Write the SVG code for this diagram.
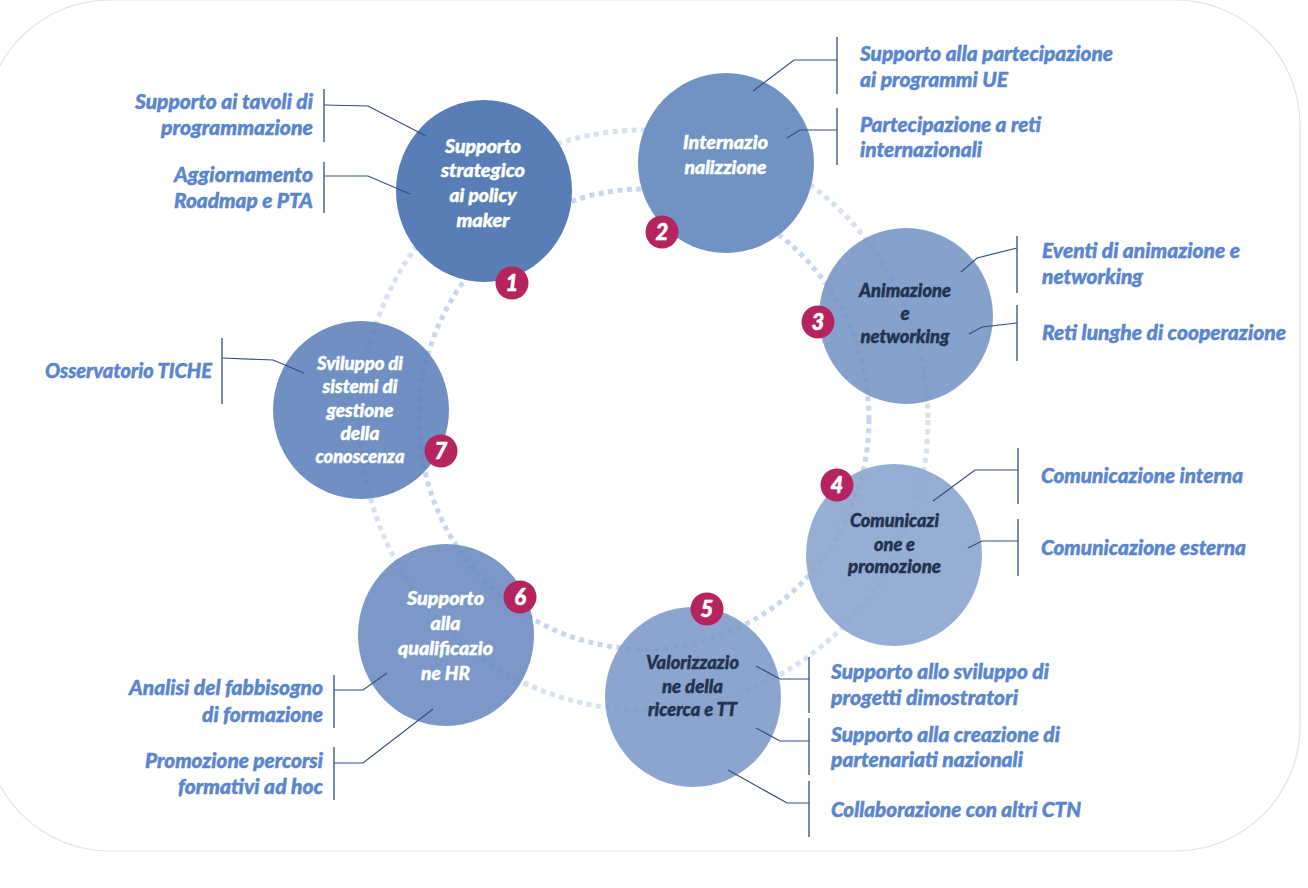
<svg xmlns="http://www.w3.org/2000/svg" width="1308" height="888" viewBox="0 0 1308 888">
<style>
.bg{fill:#ffffff;stroke:#e2e2e2;stroke-width:1.2}
.ring{fill:none;stroke-width:5;stroke-dasharray:5 4.5}
.ra{stroke:#d7e1f1}
.rb{stroke:#c9d7ee}
.ct{font-family:Lato,"Liberation Sans",sans-serif;font-weight:900;font-style:italic;font-size:18.5px;text-anchor:middle;stroke-width:0.45}
.w{fill:#ffffff;stroke:#ffffff}
.n{fill:#22324f;stroke:#22324f}
.lb{font-family:Lato,"Liberation Sans",sans-serif;font-weight:900;font-style:italic;font-size:20px;fill:#5a86cf;stroke:#5a86cf;stroke-width:0.45}
.end{text-anchor:end}
.br{stroke:#3d5b8e;stroke-width:1.4;fill:none}
.cn{stroke:#34507f;stroke-width:1.2;fill:none}
.bd{fill:#b5245f}
.bt{font-family:Lato,"Liberation Sans",sans-serif;font-weight:900;font-style:italic;font-size:22px;fill:#ffffff;stroke:#ffffff;stroke-width:0.5;text-anchor:middle}
</style>
<rect class="bg" x="-15" y="0" width="1315" height="851" rx="125" ry="125"/>
<g id="rings">
<ellipse class="ring ra" cx="644" cy="420" rx="284" ry="290"/>
<ellipse class="ring rb" cx="644" cy="419" rx="225" ry="230"/>
</g>
<g id="node1">
<ellipse cx="484" cy="191" rx="88" ry="91" fill="#587db7"/>
<text class="ct w" x="483" y="153" textLength="76" lengthAdjust="spacingAndGlyphs">Supporto</text>
<text class="ct w" x="483" y="177" textLength="84" lengthAdjust="spacingAndGlyphs">strategico</text>
<text class="ct w" x="483" y="202" textLength="67" lengthAdjust="spacingAndGlyphs">ai policy</text>
<text class="ct w" x="483" y="227" textLength="53" lengthAdjust="spacingAndGlyphs">maker</text>
</g>
<g id="node2">
<ellipse cx="726" cy="163" rx="88" ry="90" fill="#7093c4"/>
<text class="ct w" x="725.5" y="149" textLength="85" lengthAdjust="spacingAndGlyphs">Internazio</text>
<text class="ct w" x="725.5" y="174" textLength="82" lengthAdjust="spacingAndGlyphs">nalizzione</text>
</g>
<g id="node3">
<ellipse cx="906" cy="316" rx="87" ry="88" fill="#7494c5" fill-opacity="0.88"/>
<text class="ct n" x="905" y="297" textLength="92" lengthAdjust="spacingAndGlyphs">Animazione</text>
<text class="ct n" x="905" y="320">e</text>
<text class="ct n" x="905" y="343" textLength="89" lengthAdjust="spacingAndGlyphs">networking</text>
</g>
<g id="node4">
<ellipse cx="894" cy="555" rx="88" ry="91" fill="#87a3ce" fill-opacity="0.88"/>
<text class="ct n" x="894.5" y="527" textLength="89" lengthAdjust="spacingAndGlyphs">Comunicazi</text>
<text class="ct n" x="894.5" y="551" textLength="41" lengthAdjust="spacingAndGlyphs">one e</text>
<text class="ct n" x="894.5" y="573" textLength="93" lengthAdjust="spacingAndGlyphs">promozione</text>
</g>
<g id="node5">
<ellipse cx="693" cy="697" rx="88" ry="90" fill="#7b99c8" fill-opacity="0.88"/>
<text class="ct n" x="692.5" y="669" textLength="93" lengthAdjust="spacingAndGlyphs">Valorizzazio</text>
<text class="ct n" x="692.5" y="693" textLength="61" lengthAdjust="spacingAndGlyphs">ne della</text>
<text class="ct n" x="692.5" y="716" textLength="89" lengthAdjust="spacingAndGlyphs">ricerca e TT</text>
</g>
<g id="node6">
<ellipse cx="446" cy="635" rx="88" ry="91" fill="#698ac0" fill-opacity="0.88"/>
<text class="ct w" x="445.5" y="605" textLength="77" lengthAdjust="spacingAndGlyphs">Supporto</text>
<text class="ct w" x="445.5" y="630" textLength="30" lengthAdjust="spacingAndGlyphs">alla</text>
<text class="ct w" x="445.5" y="655" textLength="95" lengthAdjust="spacingAndGlyphs">qualificazio</text>
<text class="ct w" x="445.5" y="680" textLength="49" lengthAdjust="spacingAndGlyphs">ne HR</text>
</g>
<g id="node7">
<ellipse cx="361" cy="410" rx="88" ry="89" fill="#5c80bb" fill-opacity="0.88"/>
<text class="ct w" x="360" y="370" textLength="86" lengthAdjust="spacingAndGlyphs">Sviluppo di</text>
<text class="ct w" x="360" y="393" textLength="75" lengthAdjust="spacingAndGlyphs">sistemi di</text>
<text class="ct w" x="360" y="417" textLength="67" lengthAdjust="spacingAndGlyphs">gestione</text>
<text class="ct w" x="360" y="440" textLength="39" lengthAdjust="spacingAndGlyphs">della</text>
<text class="ct w" x="360" y="463" textLength="89" lengthAdjust="spacingAndGlyphs">conoscenza</text>
</g>
<g id="connectors">
<polyline class="cn" points="324,105 368,106 426,136"/>
<polyline class="cn" points="324,176 368,176 410,194"/>
<polyline class="cn" points="837,60 794,60 753,91"/>
<polyline class="cn" points="837,130 800,130 787,138"/>
<polyline class="cn" points="1017,248 977,258 961,272"/>
<polyline class="cn" points="1017,323 982,327 969,334"/>
<polyline class="cn" points="1018,470 975,470 933,501"/>
<polyline class="cn" points="1018,541 982,541 968,548"/>
<polyline class="cn" points="809,679 780,679 756,666"/>
<polyline class="cn" points="809,741 780,741 756,728"/>
<polyline class="cn" points="809,803 787,803 728,770"/>
<polyline class="cn" points="334,690 363,690 387,673"/>
<polyline class="cn" points="334,763 363,763 433,709"/>
<polyline class="cn" points="222,358 273,360 304,373"/>
<line class="br" x1="324" y1="89" x2="324" y2="142"/>
<line class="br" x1="324" y1="162" x2="324" y2="213"/>
<line class="br" x1="837" y1="37" x2="837" y2="94"/>
<line class="br" x1="837" y1="108" x2="837" y2="165"/>
<line class="br" x1="1017" y1="236" x2="1017" y2="293"/>
<line class="br" x1="1017" y1="305" x2="1017" y2="361"/>
<line class="br" x1="1018" y1="448" x2="1018" y2="504"/>
<line class="br" x1="1018" y1="519" x2="1018" y2="576"/>
<line class="br" x1="809" y1="657" x2="809" y2="713"/>
<line class="br" x1="809" y1="718" x2="809" y2="775"/>
<line class="br" x1="809" y1="781" x2="809" y2="837"/>
<line class="br" x1="334" y1="675" x2="334" y2="728"/>
<line class="br" x1="334" y1="747" x2="334" y2="800"/>
<line class="br" x1="222" y1="338" x2="222" y2="404"/>
</g>
<g id="labels">
<text class="lb end" x="313" y="109" textLength="178" lengthAdjust="spacingAndGlyphs">Supporto ai tavoli di</text>
<text class="lb end" x="313" y="135" textLength="152" lengthAdjust="spacingAndGlyphs">programmazione</text>
<text class="lb end" x="313" y="182" textLength="139" lengthAdjust="spacingAndGlyphs">Aggiornamento</text>
<text class="lb end" x="313" y="208" textLength="139" lengthAdjust="spacingAndGlyphs">Roadmap e PTA</text>
<text class="lb" x="860" y="61" textLength="253" lengthAdjust="spacingAndGlyphs">Supporto alla partecipazione</text>
<text class="lb" x="860" y="87" textLength="148" lengthAdjust="spacingAndGlyphs">ai programmi UE</text>
<text class="lb" x="860" y="132" textLength="181" lengthAdjust="spacingAndGlyphs">Partecipazione a reti</text>
<text class="lb" x="860" y="157" textLength="122" lengthAdjust="spacingAndGlyphs">internazionali</text>
<text class="lb" x="1042" y="258" textLength="198" lengthAdjust="spacingAndGlyphs">Eventi di animazione e</text>
<text class="lb" x="1042" y="284" textLength="101" lengthAdjust="spacingAndGlyphs">networking</text>
<text class="lb" x="1042" y="340" textLength="244" lengthAdjust="spacingAndGlyphs">Reti lunghe di cooperazione</text>
<text class="lb" x="1041" y="483" textLength="202" lengthAdjust="spacingAndGlyphs">Comunicazione interna</text>
<text class="lb" x="1041" y="555" textLength="205" lengthAdjust="spacingAndGlyphs">Comunicazione esterna</text>
<text class="lb" x="831" y="679" textLength="218" lengthAdjust="spacingAndGlyphs">Supporto allo sviluppo di</text>
<text class="lb" x="831" y="705" textLength="187" lengthAdjust="spacingAndGlyphs">progetti dimostratori</text>
<text class="lb" x="831" y="742" textLength="229" lengthAdjust="spacingAndGlyphs">Supporto alla creazione di</text>
<text class="lb" x="831" y="767" textLength="192" lengthAdjust="spacingAndGlyphs">partenariati nazionali</text>
<text class="lb" x="831" y="817" textLength="250" lengthAdjust="spacingAndGlyphs">Collaborazione con altri CTN</text>
<text class="lb end" x="212" y="378" textLength="167" lengthAdjust="spacingAndGlyphs">Osservatorio TICHE</text>
<text class="lb end" x="323" y="695" textLength="194" lengthAdjust="spacingAndGlyphs">Analisi del fabbisogno</text>
<text class="lb end" x="323" y="722" textLength="121" lengthAdjust="spacingAndGlyphs">di formazione</text>
<text class="lb end" x="323" y="768" textLength="178" lengthAdjust="spacingAndGlyphs">Promozione percorsi</text>
<text class="lb end" x="323" y="794" textLength="145" lengthAdjust="spacingAndGlyphs">formativi ad hoc</text>
</g>
<g id="badge1"><circle class="bd" cx="512" cy="283" r="16.5"/><text class="bt" x="512" y="291">1</text></g>
<g id="badge2"><circle class="bd" cx="662" cy="232" r="16.5"/><text class="bt" x="662" y="240">2</text></g>
<g id="badge3"><circle class="bd" cx="818" cy="322" r="16.5"/><text class="bt" x="818" y="330">3</text></g>
<g id="badge4"><circle class="bd" cx="837" cy="485" r="16.5"/><text class="bt" x="837" y="493">4</text></g>
<g id="badge5"><circle class="bd" cx="707" cy="609" r="16.5"/><text class="bt" x="707" y="617">5</text></g>
<g id="badge6"><circle class="bd" cx="520" cy="597" r="16.5"/><text class="bt" x="520" y="605">6</text></g>
<g id="badge7"><circle class="bd" cx="441" cy="451" r="16.5"/><text class="bt" x="441" y="459">7</text></g>
</svg>
